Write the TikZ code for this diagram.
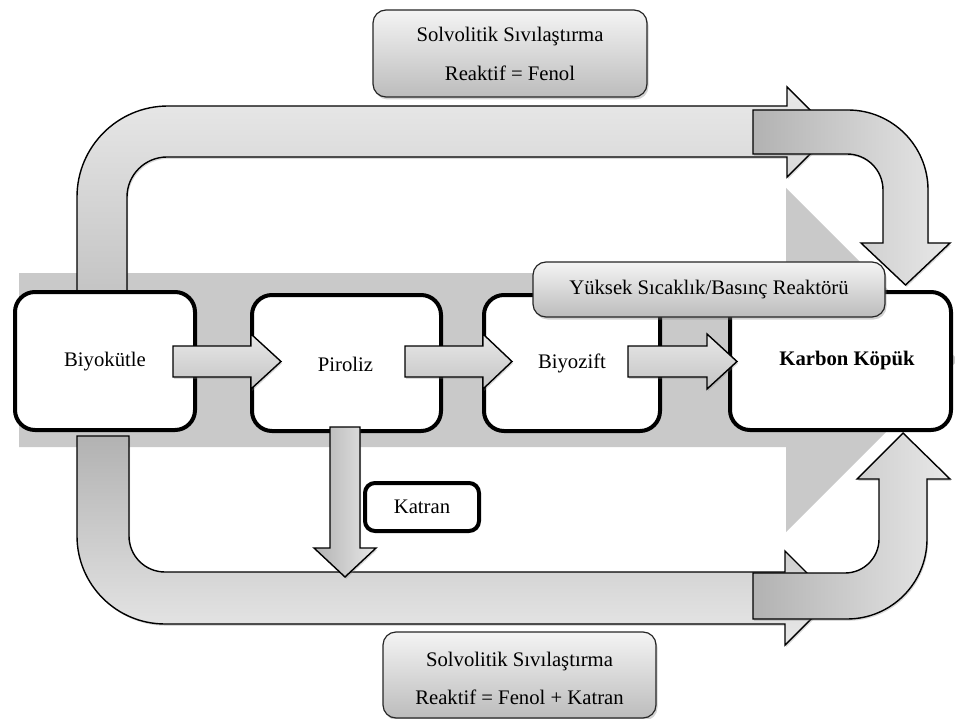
\documentclass[tikz,border=0pt]{standalone}
\usepackage{fontspec}
\setmainfont{Liberation Serif}
\usetikzlibrary{shadows}
\definecolor{bandgray}{HTML}{C9C9C9}
\definecolor{lightg}{HTML}{E8E8E8}
\definecolor{midg}{HTML}{C4C4C4}
\definecolor{darkg}{HTML}{B2B2B2}
\definecolor{labtop}{HTML}{F4F4F4}
\definecolor{labbot}{HTML}{BCBCBC}
\tikzset{
  txt/.style={font=\fontsize{20.7}{25}\selectfont},
  mainbox/.style={draw=black, line width=4pt, fill=white, rounded corners=20pt, txt},
  labelbox/.style={draw=black!85, line width=1.2pt, rounded corners=13pt,
     top color=labtop, bottom color=labbot, txt,
     drop shadow={shadow xshift=1.5pt, shadow yshift=-2.5pt, opacity=0.35}},
  blockarrow/.style={draw=black, line width=1.4pt, line join=miter,
     drop shadow={shadow xshift=1.2pt, shadow yshift=-1.8pt, opacity=0.3}},
  vshade/.style={top color=lightg, bottom color=midg},
  hshade/.style={left color=darkg, right color=lightg},
}
\begin{document}
\begin{tikzpicture}[x=1pt,y=-1pt]
\useasboundingbox (0,0) rectangle (955,719);

% background band arrow
\fill[bandgray] (19,273) -- (786,273) -- (786,188) -- (958,360) -- (786,532) -- (786,447) -- (19,447) -- cycle;

% top U arrow
\path[blockarrow, top color=lightg!95, bottom color=midg]
  (77,292) -- (77,197) .. controls (77,146.7) and (117.7,106) .. (168,106)
  -- (787,106) -- (787,87) -- (832,132) -- (787,177) -- (787,157)
  -- (167,157) .. controls (144.9,157) and (127,174.9) .. (127,197)
  -- (127,292) -- cycle;

% bottom U arrow
\path[blockarrow, top color=darkg, bottom color=lightg]
  (77,436) -- (77,536) .. controls (77,584.6) and (116.4,624) .. (165,624)
  -- (785,624) -- (785,645) -- (832,598) -- (785,551) -- (785,572)
  -- (165,572) .. controls (145.1,572) and (129,555.9) .. (129,536)
  -- (129,436) -- cycle;

% bent arrow going down to Karbon Kopuk
\path[blockarrow, left color=darkg, right color=lightg]
  (753,110) -- (848,110) .. controls (892.2,110) and (928,145.8) .. (928,190)
  -- (928,243) -- (950,243) -- (905.5,285) -- (861,243) -- (883,243)
  -- (883,190) .. controls (883,170.1) and (866.9,154) .. (847,154)
  -- (753,154) -- cycle;

% bent arrow going up to Karbon Kopuk
\path[blockarrow, left color=darkg, right color=lightg]
  (753,619) -- (847,619) .. controls (891.2,619) and (927,583.2) .. (927,539)
  -- (927,479) -- (950,479) -- (903,433) -- (857,479) -- (879,479)
  -- (879,539) .. controls (879,557.8) and (863.8,573) .. (845,573)
  -- (753,573) -- cycle;

% main boxes
\node[mainbox, minimum width=180pt, minimum height=138pt] (bio) at (105,361) {};
\node[txt] (biot) at (105,362) {Biyokütle};
\node[mainbox, minimum width=189pt, minimum height=136pt] (pir) at (346.5,363) {};
\node[txt] (pirt) at (345.5,364) {Piroliz};
\node[mainbox, minimum width=176pt, minimum height=136pt] (bzf) at (572,363) {};
\node[txt] (bzft) at (572,363) {Biyozift};
\node[mainbox, minimum width=221pt, minimum height=138pt] (kk) at (840.5,361) {};
\node[font=\fontsize{20.7}{25}\selectfont\bfseries] (kkt) at (847,361) {Karbon Köpük};

% small arrows between boxes
\path[blockarrow, vshade] (173,346) -- (251,346) -- (251,334) -- (281,361.5) -- (251,389) -- (251,377) -- (173,377) -- cycle;
\path[blockarrow, vshade] (405,346) -- (483,346) -- (483,334) -- (512,361.5) -- (483,389) -- (483,377) -- (405,377) -- cycle;
\path[blockarrow, vshade] (628,346) -- (707,346) -- (707,334) -- (737,361.5) -- (707,389) -- (707,377) -- (628,377) -- cycle;

% Katran arrow
\path[blockarrow, hshade] (330,427) -- (360,427) -- (360,548) -- (376,548) -- (345,577) -- (314,548) -- (330,548) -- cycle;

% Katran box
\node[mainbox, rounded corners=10pt, minimum width=114pt, minimum height=48pt] (kat) at (422,507) {Katran};

% reactor label
\node[labelbox, minimum width=352pt, minimum height=55pt] (rea) at (709,289.5) {Yüksek Sıcaklık/Basınç Reaktörü};

% top label
\node[labelbox, minimum width=274pt, minimum height=87pt] (top) at (510,53.5) {};
\node[txt] (top1) at (510,37) {Solvolitik Sıvılaştırma};
\node[txt] (top2) at (510,73) {Reaktif = Fenol};

% bottom label
\node[labelbox, minimum width=273pt, minimum height=86pt] (bot) at (519.5,675) {};
\node[txt] (bot1) at (519.5,662) {Solvolitik Sıvılaştırma};
\node[txt] (bot2) at (519.5,697) {Reaktif = Fenol + Katran};
\end{tikzpicture}
\end{document}
